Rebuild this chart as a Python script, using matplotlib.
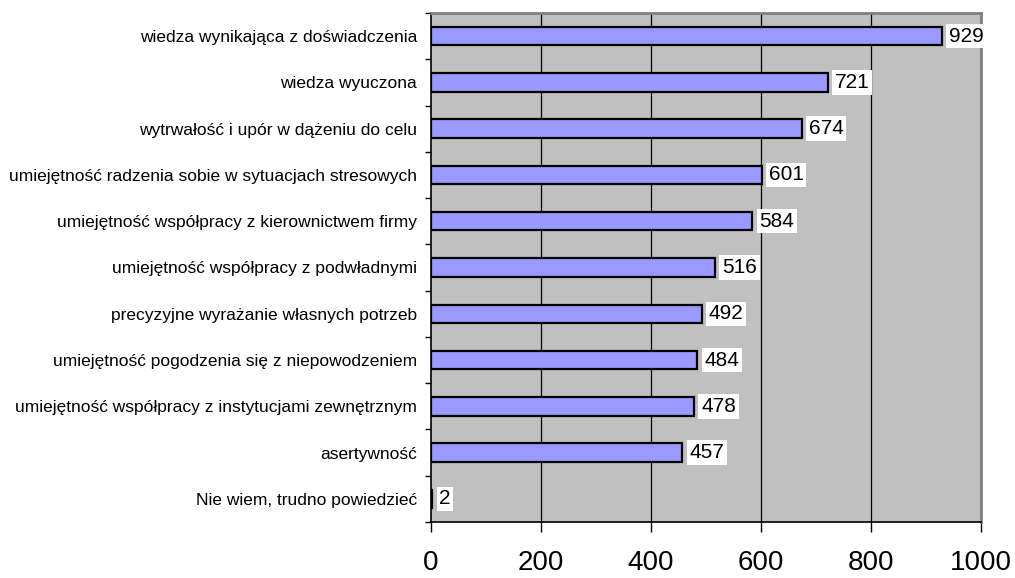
import numpy as np
import matplotlib
matplotlib.use('Agg')
import matplotlib.pyplot as plt
from matplotlib.ticker import FixedLocator

# Data (top to bottom as in the chart)
categories = [
    'wiedza wynikająca z doświadczenia',
    'wiedza wyuczona',
    'wytrwałość i upór w dążeniu do celu',
    'umiejętność radzenia sobie w sytuacjach stresowych',
    'umiejętność współpracy z kierownictwem firmy',
    'umiejętność współpracy z podwładnymi',
    'precyzyjne wyrażanie własnych potrzeb',
    'umiejętność pogodzenia się z niepowodzeniem',
    'umiejętność współpracy z instytucjami zewnętrznym',
    'asertywność',
    'Nie wiem, trudno powiedzieć',
]
values = [929, 721, 674, 601, 584, 516, 492, 484, 478, 457, 2]
x_ticks = [0, 200, 400, 600, 800, 1000]

font = ['Liberation Sans', 'DejaVu Sans']

fig = plt.figure(figsize=(10.15, 5.78), dpi=100)
ax = fig.add_axes([431 / 1015, 1 - 522 / 578, (981 - 431) / 1015, (522 - 13) / 578])

ypos = np.arange(len(categories))
ax.set_facecolor('#c0c0c0')
ax.barh(ypos, values, height=0.4, color='#9999ff', edgecolor='black', linewidth=1.6, zorder=3)

ax.set_xlim(0, 1000)
ax.set_ylim(len(categories) - 0.5, -0.5)

# vertical grid lines
for xt in x_ticks[1:-1]:
    ax.axvline(xt, color='black', linewidth=0.9, zorder=1)

# value labels in white boxes
for y, v in zip(ypos, values):
    ax.text(v + 13, y, str(v), va='center', ha='left', fontsize=15, family=font,
            bbox=dict(facecolor='white', edgecolor='none', pad=2), zorder=4)

ax.set_xticks(x_ticks)
ax.set_xticklabels([str(t) for t in x_ticks], fontsize=20, family=font)
ax.tick_params(axis='x', direction='out', length=7.5, width=1, pad=13, colors='black')

ax.set_yticks(ypos)
ax.set_yticklabels(categories, fontsize=12.5, family=font)
ax.tick_params(axis='y', which='major', length=0, pad=10)
ax.yaxis.set_minor_locator(FixedLocator(np.arange(-0.5, len(categories), 1.0)))
ax.tick_params(axis='y', which='minor', direction='out', length=4, width=1)

ax.spines['left'].set_color('black')
ax.spines['left'].set_linewidth(1.2)
ax.spines['bottom'].set_color('black')
ax.spines['bottom'].set_linewidth(1.2)
ax.spines['top'].set_color('#808080')
ax.spines['top'].set_linewidth(2)
ax.spines['right'].set_color('#808080')
ax.spines['right'].set_linewidth(2)

fig.savefig('out.png', dpi=100, facecolor='white')
